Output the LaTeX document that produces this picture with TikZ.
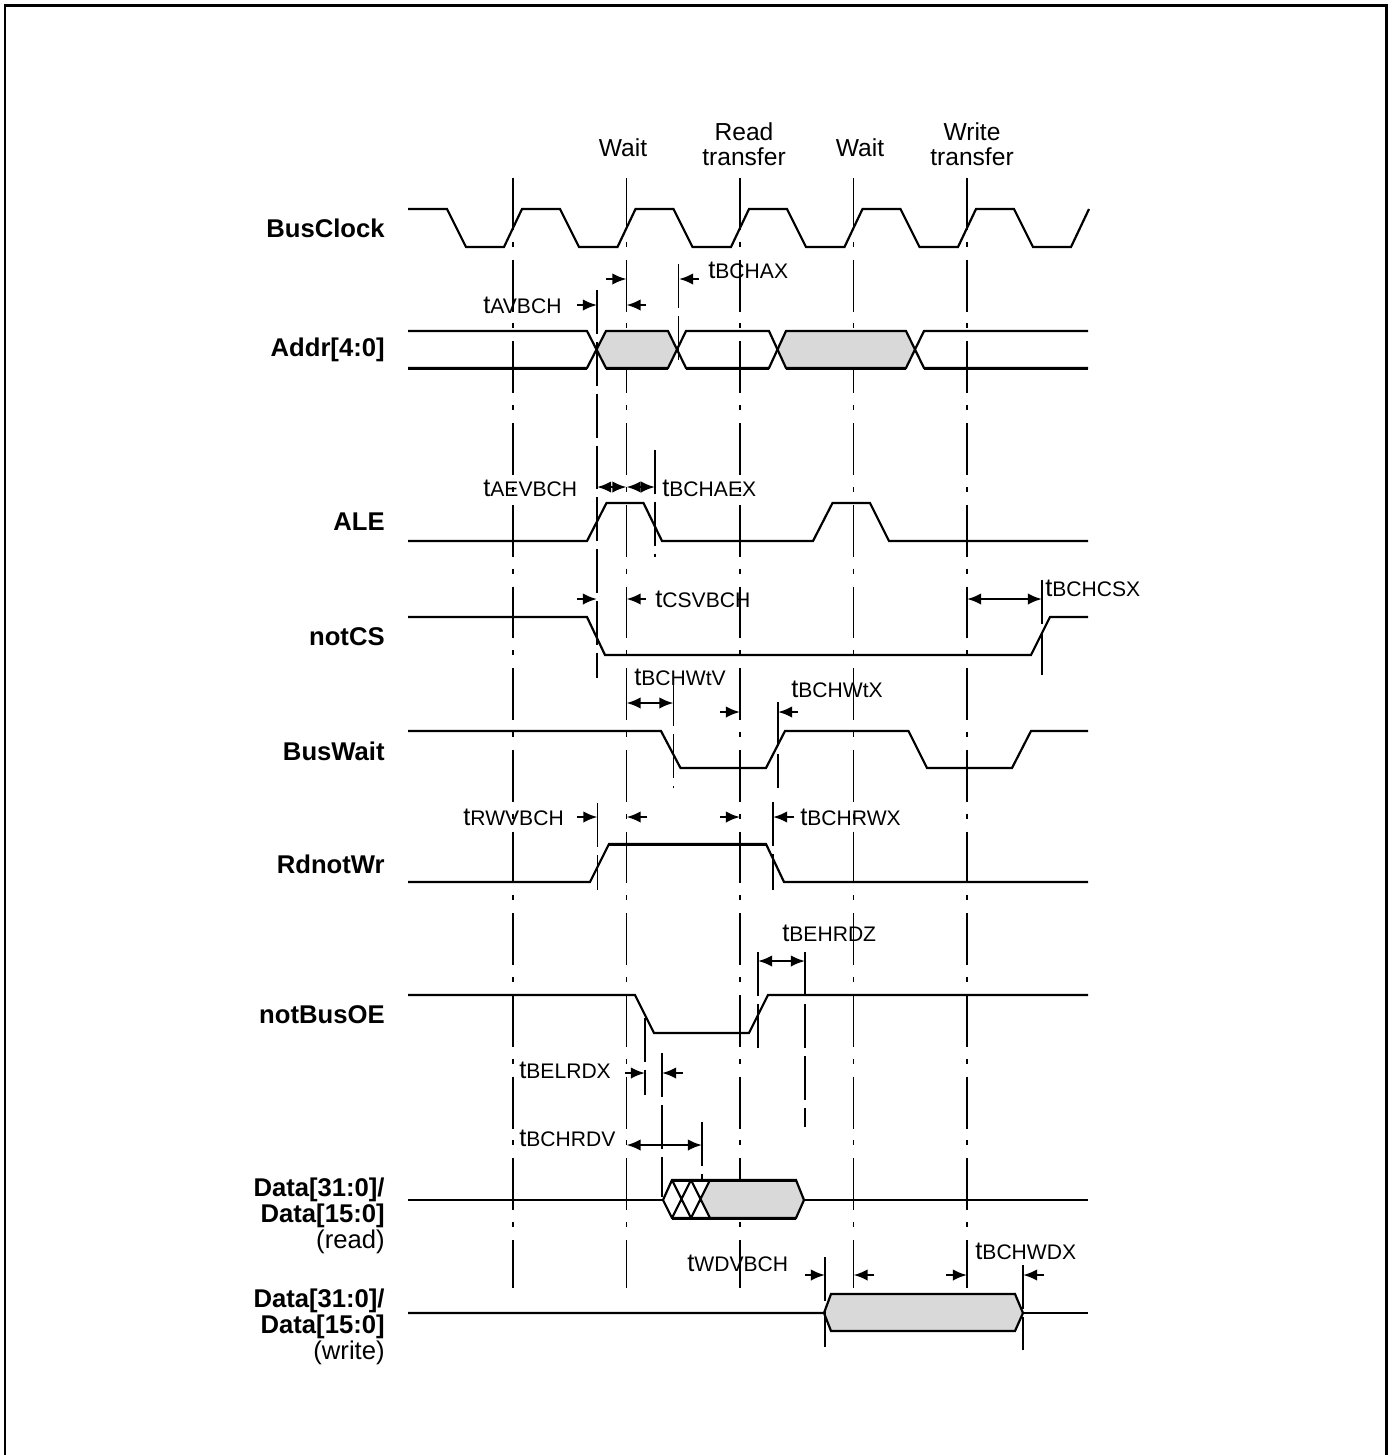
\documentclass[tikz,border=0pt]{standalone}
\usepackage{fontspec}
\setmainfont{Liberation Sans}
\usetikzlibrary{arrows.meta}
\newcommand{\tlab}[1]{{\fontsize{14.5}{14}\selectfont t}{\fontsize{12}{12}\selectfont #1}}
\begin{document}
\begin{tikzpicture}[x=0.02cm,y=-0.02cm,
  sig/.style={line width=1.25pt, line join=miter},
  sigb/.style={line width=1.7pt, line join=miter},
  refl/.style={line width=0.85pt, dash pattern=on 29.5pt off 6.8pt on 2.8pt off 7.4pt},
  tim/.style={line width=0.85pt, dash pattern=on 25pt off 4.5pt},
  timb/.style={line width=1.5pt, dash pattern=on 25pt off 4.5pt},
  arr/.style={line width=1.3pt, -{Latex[length=8pt,width=6.5pt]}},
  darr/.style={line width=1.3pt, {Latex[length=8pt,width=6.5pt]}-{Latex[length=8pt,width=6.5pt]}},
  tlbl/.style={anchor=west, inner sep=0pt},
  slbl/.style={anchor=east, inner sep=0pt, font=\fontsize{14.6}{16}\selectfont\bfseries},
  toplbl/.style={inner sep=0pt, align=center, font=\fontsize{14}{14.2}\selectfont},
  busfill/.style={fill=black!15}]
\useasboundingbox (0,0) rectangle (1392,1455);
% frame
\draw[line width=1.7pt] (5,1455) -- (5,5) -- (1386,5) -- (1386,1455);

% top labels
\node[toplbl] (tw1) at (623,148) {Wait};
\node[toplbl] (trd) at (744,144) {Read\\transfer};
\node[toplbl] (tw2) at (860,148) {Wait};
\node[toplbl] (twr) at (972,144) {Write\\transfer};

% signal labels
\node[slbl] (lclk) at (385,228) {BusClock};
\node[slbl] (laddr) at (385,350) {Addr[4:0]};
\node[slbl] (lale) at (385,522) {ALE};
\node[slbl] (lcs) at (385,637) {notCS};
\node[slbl] (lwait) at (385,751) {BusWait};
\node[slbl] (lrw) at (385,864) {RdnotWr};
\node[slbl] (loe) at (385,1015) {notBusOE};
\node[anchor=east, inner sep=0pt, align=right, font=\fontsize{14.6}{12.5}\selectfont] (ldr) at (385,1216)
  {\textbf{Data[31:0]/}\\\textbf{Data[15:0]}\\(read)};
\node[anchor=east, inner sep=0pt, align=right, font=\fontsize{14.6}{12.5}\selectfont] (ldw) at (385,1327)
  {\textbf{Data[31:0]/}\\\textbf{Data[15:0]}\\(write)};

% reference lines
\foreach \x in {513,626.5,740,853.5,967}
  \draw[refl] (\x,178) -- (\x,1288);

% BusClock
\draw[sig] (408,209) -- (447,209) -- (466,247) -- (504,247) -- (522,209) -- (560,209) -- (579,247)
  -- (617.5,247) -- (635.5,209) -- (673.5,209) -- (692.5,247) -- (731,247) -- (749,209) -- (787,209)
  -- (806,247) -- (844.5,247) -- (862.5,209) -- (900.5,209) -- (919.5,247) -- (958,247) -- (976,209)
  -- (1014,209) -- (1033,247) -- (1071,247) -- (1089,209);

% Addr
\fill[busfill] (596.5,349.5) -- (606,331) -- (668,331) -- (677,349.5) -- (668,368) -- (606,368) -- cycle;
\fill[busfill] (777.5,349.5) -- (786,331) -- (906,331) -- (915,349.5) -- (906,368) -- (786,368) -- cycle;
\draw[sig] (408,331) -- (587,331) -- (606,368) -- (668,368) -- (686,331) -- (769,331) -- (786,368)
  -- (906,368) -- (924,331) -- (1088,331);
\draw[sig] (408,368) -- (587,368) -- (606,331) -- (668,331) -- (686,368) -- (769,368) -- (786,331)
  -- (906,331) -- (924,368) -- (1088,368);
\draw[sigb] (408,368) -- (587,368) (606,368) -- (668,368) (686,368) -- (769,368) (786,368) -- (906,368) (924,368) -- (1088,368);

% ALE
\draw[sig] (408,541) -- (587,541) -- (606.5,503) -- (643.5,503) -- (662,541) -- (813,541) -- (832.5,503)
  -- (870,503) -- (889,541) -- (1088,541);
% notCS
\draw[sig] (408,617) -- (587,617) -- (605,655) -- (1031,655) -- (1050,617) -- (1088,617);
% BusWait
\draw[sig] (408,731) -- (661,731) -- (680.5,768) -- (766,768) -- (785,731) -- (908.5,731) -- (927,768)
  -- (1012,768) -- (1031,731) -- (1088,731);
% RdnotWr
\draw[sig] (408,882) -- (590,882) -- (609,844) -- (766,844) -- (784,882) -- (1088,882);
\draw[sigb] (609,844) -- (766,844);
% notBusOE
\draw[sig] (408,995) -- (635,995) -- (654,1033) -- (749,1033) -- (768,995) -- (1088,995);

% Data read
\fill[busfill] (710,1180) -- (796,1180) -- (804,1200) -- (796,1218) -- (710,1218) -- (700.5,1200) -- cycle;
\draw[sig] (408,1200) -- (663,1200) (804,1200) -- (1088,1200);
\draw[sig] (663,1200) -- (672,1180) -- (796,1180) -- (804,1200) -- (796,1218) -- (672,1218) -- cycle;
\draw[sigb] (672,1180) -- (796,1180) (672,1218) -- (796,1218);
\draw[sig] (672,1180) -- (691,1218) (691,1180) -- (672,1218) (691,1180) -- (710,1218) (710,1180) -- (691,1218);

% Data write
\fill[busfill] (824,1313) -- (831,1294) -- (1015,1294) -- (1023,1313) -- (1015,1331) -- (831,1331) -- cycle;
\draw[sig] (408,1313) -- (824,1313) -- (831,1294) -- (1015,1294) -- (1023,1313) -- (1015,1331) -- (831,1331) -- (824,1313);
\draw[sig] (1023,1313) -- (1088,1313);

% timing guide lines
\draw[tim] (597,290) -- (597,678);
\draw[tim] (678.5,264) -- (678.5,365);
\draw[tim] (655,450) -- (655,557);
\draw[tim] (1042,580) -- (1042,675);
\draw[tim] (673.5,682) -- (673.5,788);
\draw[tim] (778,702) -- (778,788);
\draw[tim] (597.5,803) -- (597.5,890);
\draw[tim] (773,802) -- (773,890);
\draw[timb] (758,952) -- (758,1052);
\draw[tim] (805,952) -- (805,1127);
\draw[tim] (645,1018) -- (645,1095);
\draw[tim] (662,1053) -- (662,1197);
\draw[tim] (702,1122) -- (702,1180);
\draw[tim] (825,1257) -- (825,1347);
\draw[tim] (1023,1265) -- (1023,1350);

% arrows
\draw[arr] (577,305) -- (597,305);
\draw[arr] (646,305) -- (626.5,305);
\draw[arr] (606,279) -- (626.5,279);
\draw[arr] (699,279) -- (679,279);
\draw[darr] (597,487) -- (626.5,487);
\draw[darr] (626.5,487) -- (655,487);
\draw[arr] (577,599) -- (597,599);
\draw[arr] (646,599) -- (626.5,599);
\draw[darr] (967,599) -- (1042,599);
\draw[darr] (626.5,703) -- (673.5,703);
\draw[arr] (720,712) -- (740,712);
\draw[arr] (798,712) -- (778,712);
\draw[arr] (577,817) -- (597.5,817);
\draw[arr] (647,817) -- (626.5,817);
\draw[arr] (720,817) -- (740,817);
\draw[arr] (794,817) -- (773,817);
\draw[darr] (758,961) -- (805,961);
\draw[arr] (625,1073) -- (645,1073);
\draw[arr] (683,1073) -- (662,1073);
\draw[darr] (626.5,1145) -- (702,1145);
\draw[arr] (805,1275) -- (825,1275);
\draw[arr] (874,1275) -- (853.5,1275);
\draw[arr] (946,1275) -- (967,1275);
\draw[arr] (1044,1275) -- (1023,1275);

% timing labels
\node[tlbl] (n1) at (483,305) {\tlab{AVBCH}};
\node[tlbl] (n2) at (708,270) {\tlab{BCHAX}};
\node[tlbl] (n3) at (483,488) {\tlab{AEVBCH}};
\node[tlbl] (n4) at (662,488) {\tlab{BCHAEX}};
\node[tlbl] (n5) at (655,599) {\tlab{CSVBCH}};
\node[tlbl] (n6) at (1045,588) {\tlab{BCHCSX}};
\node[tlbl] (n7) at (634,677) {\tlab{BCHWtV}};
\node[tlbl] (n8) at (791,689) {\tlab{BCHWtX}};
\node[tlbl] (n9) at (463,817) {\tlab{RWVBCH}};
\node[tlbl] (n10) at (800,817) {\tlab{BCHRWX}};
\node[tlbl] (n11) at (782,933) {\tlab{BEHRDZ}};
\node[tlbl] (n12) at (519,1070) {\tlab{BELRDX}};
\node[tlbl] (n13) at (519,1138) {\tlab{BCHRDV}};
\node[tlbl] (n14) at (687,1263) {\tlab{WDVBCH}};
\node[tlbl] (n15) at (975,1251) {\tlab{BCHWDX}};
\end{tikzpicture}
\end{document}
